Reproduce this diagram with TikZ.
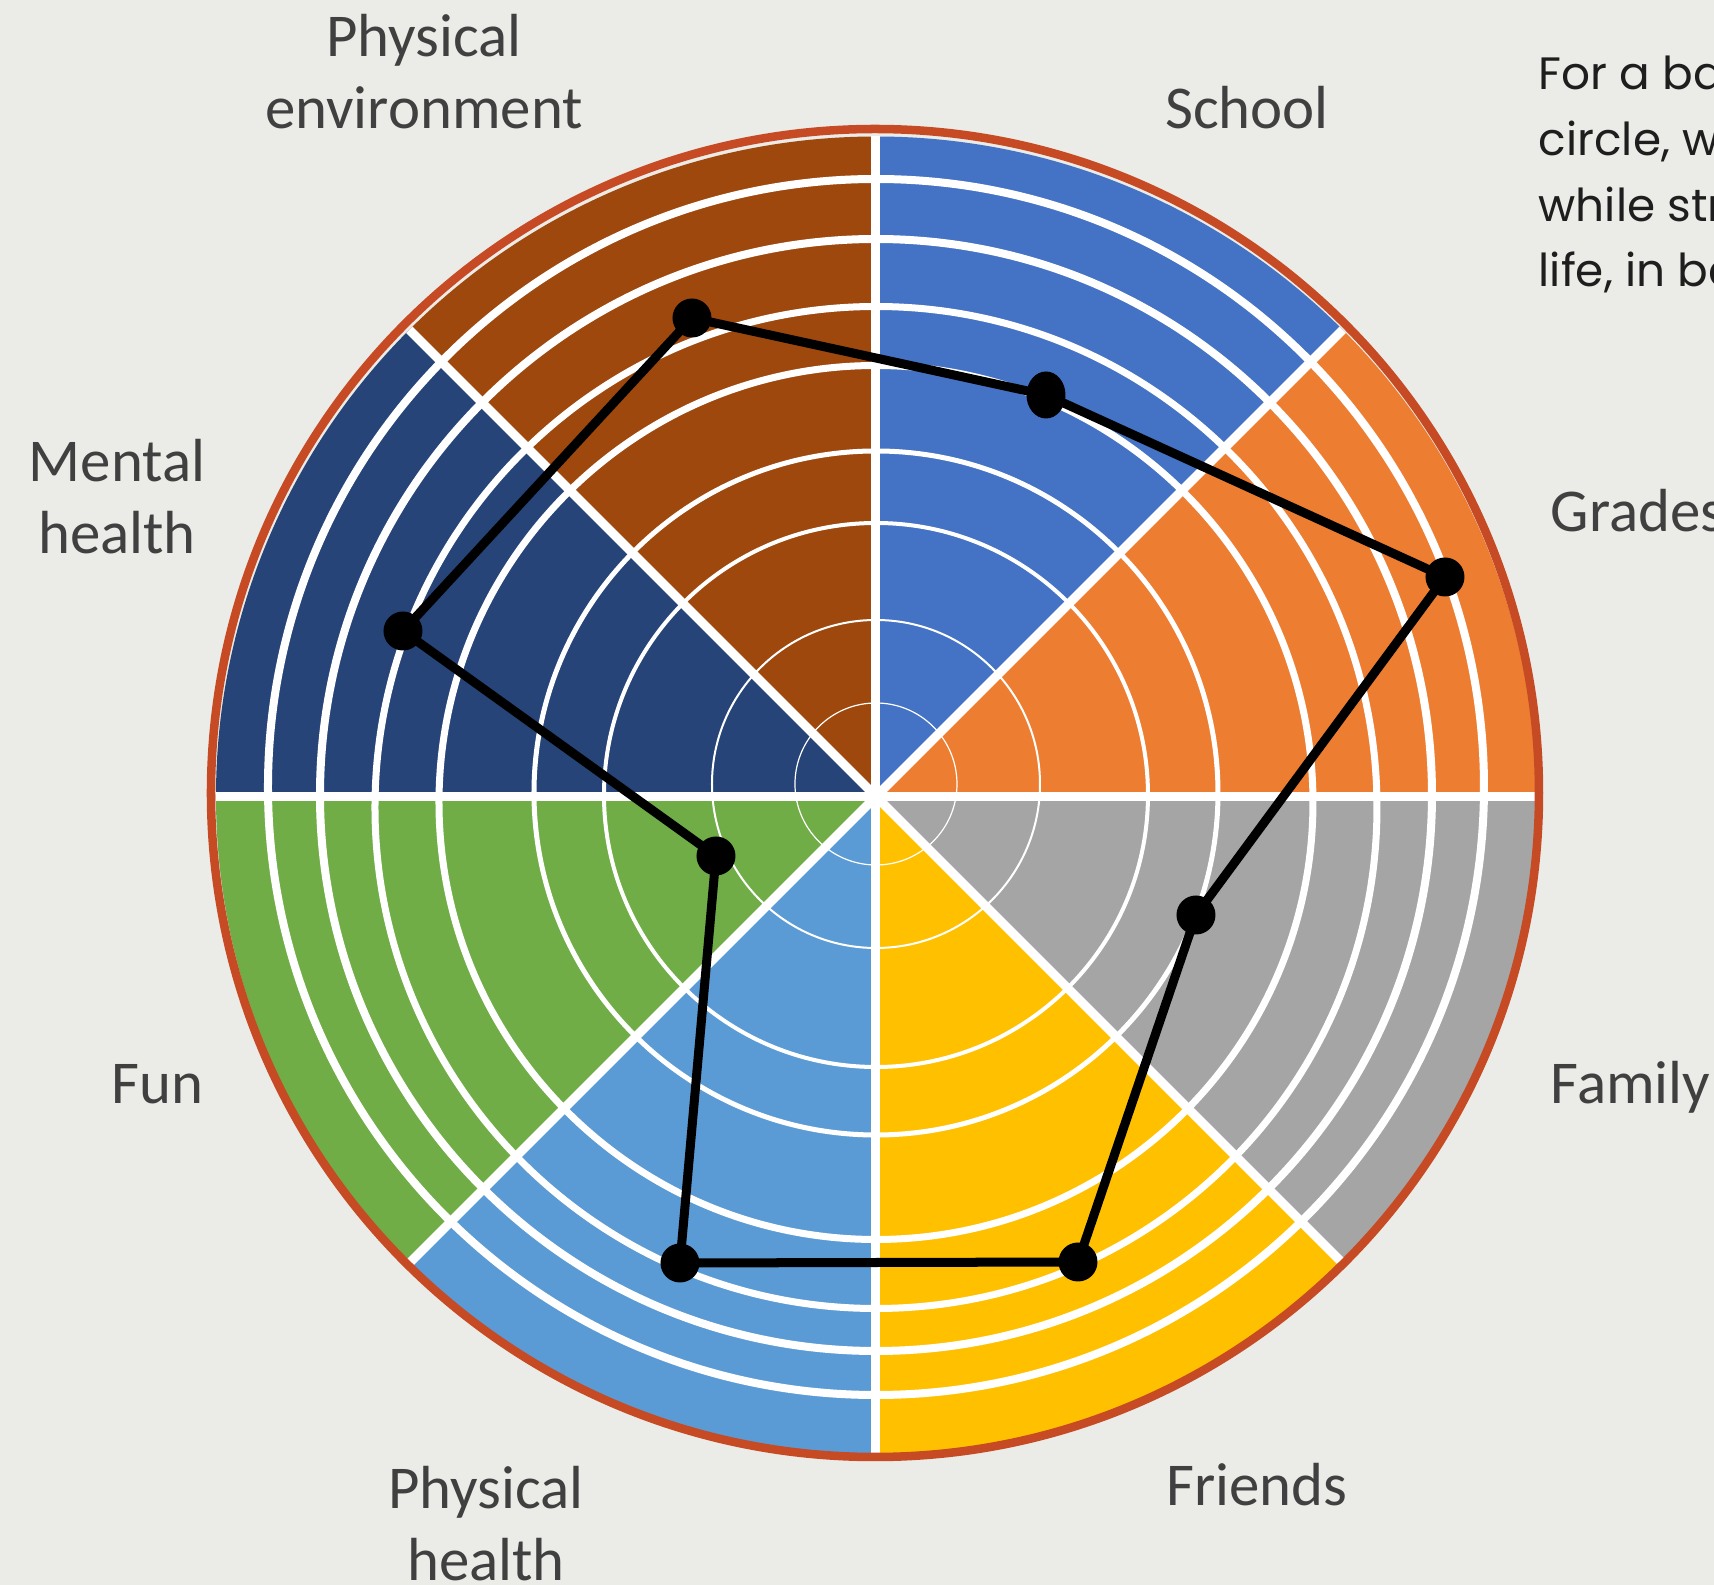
\documentclass[tikz,border=0pt]{standalone}
\usepackage{fontspec}
\newfontfamily\lblfont{Carlito}
\newfontfamily\notefont{Poppins}
\definecolor{bgcol}{HTML}{EBECE7}
\definecolor{rimcol}{HTML}{C64B24}
\definecolor{lblgray}{HTML}{404040}
\definecolor{notegray}{HTML}{1E1E1E}
\definecolor{schoolcol}{HTML}{4472C4}
\definecolor{gradescol}{HTML}{ED7D31}
\definecolor{familycol}{HTML}{A5A5A5}
\definecolor{friendscol}{HTML}{FFC000}
\definecolor{phealthcol}{HTML}{5B9BD5}
\definecolor{funcol}{HTML}{70AD47}
\definecolor{mhealthcol}{HTML}{264478}
\definecolor{penvcol}{HTML}{9E480E}
\begin{document}
\begin{tikzpicture}[x=0.01cm, y=0.01cm,
		lbl/.style={font={\lblfont\fontsize{17.3}{20.5}\selectfont}, text=lblgray, inner sep=0pt, anchor=base},
		note/.style={font={\notefont\fontsize{12.9}{18.7}\selectfont}, text=notegray, inner sep=0pt, anchor=base west, align=left},
		ring/.style={draw=white, line width=#1}]
	\fill[bgcol] (-876,-788.5) rectangle (838,796.5);
	\useasboundingbox (-876,-788.5) rectangle (838,796.5);
	\coordinate (O) at (0,0);
	\foreach \a/\c in {0/gradescol, 45/schoolcol, 90/penvcol, 135/mhealthcol, 180/funcol, 225/phealthcol, 270/friendscol, 315/familycol}
		\fill[\c] (O) -- (\a:660) arc[start angle=\a, end angle=\a+45, radius=660] -- cycle;
	\foreach \r/\dy/\w in {81/12.5/0.012cm, 164/12.5/0.02cm, 272/1.5/0.04cm, 342/3.5/0.05cm, 437/-6/0.07cm, 501/-11/0.07cm, 556/1.5/0.08cm, 608/9.5/0.08cm}
		\draw[ring=\w] (0,\dy) circle[radius=\r];
	\foreach \a in {0,45,...,315}
		\draw[white, line width=0.09cm] (O) -- (\a:660);
	\draw[rimcol, line width=0.085cm] (-1,3.5) circle[radius=664];
	\coordinate (penv) at (-184,478.5);
	\coordinate (school) at (170,401.5);
	\coordinate (grades) at (569,219.5);
	\coordinate (family) at (320,-118.5);
	\coordinate (friends) at (202,-465.5);
	\coordinate (phealth) at (-196,-466.5);
	\coordinate (fun) at (-160,-59.5);
	\coordinate (mhealth) at (-473,165.5);
	\draw[black, line width=0.09cm, line join=round] (penv) -- (school) -- (grades) -- (family) -- (friends) -- (phealth) -- (fun) -- (mhealth) -- cycle;
	\foreach \p in {penv, grades, family, friends, phealth, fun, mhealth}
		\fill[black] (\p) circle[radius=19.5];
	\fill[black] (school) ellipse[x radius=19.5, y radius=23.5];
	\node[lbl, align=center] (penvlbl) at (-452,667.5) {Physical\\environment};
	\node[lbl] (schoollbl) at (371,667.5) {School};
	\node[lbl, anchor=base west] (gradeslbl) at (674,264.5) {Grades};
	\node[lbl, anchor=base west] (familylbl) at (674,-307.5) {Family};
	\node[lbl] (friendslbl) at (381,-709.5) {Friends};
	\node[lbl, align=center] (phealthlbl) at (-390,-784.5) {Physical\\health};
	\node[lbl, anchor=base east] (funlbl) at (-672,-307.5) {Fun};
	\node[lbl, align=center] (mhealthlbl) at (-759,242.5) {Mental\\health};
	\node[note] (notetxt) at (662,509.5) {For a ba\\circle, w\\while str\\life, in ba};
\end{tikzpicture}
\end{document}
